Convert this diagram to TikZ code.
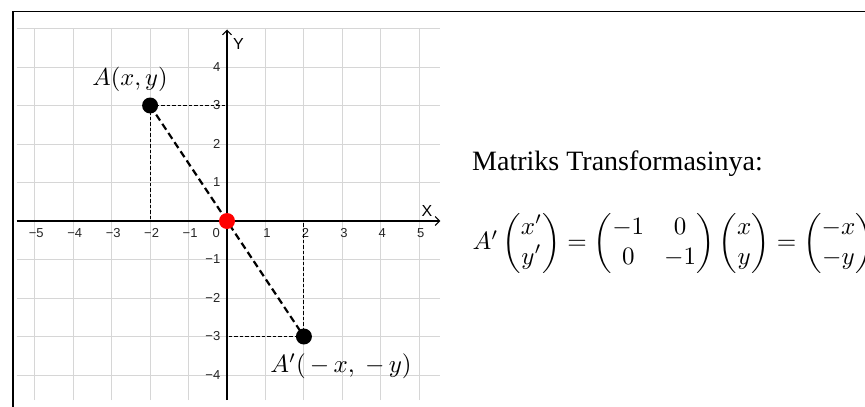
\documentclass[tikz,border=0pt]{standalone}
\usepackage{amsmath}
\usepackage{fontspec}
\setmainfont{Liberation Serif}
\newfontfamily\axisfont{Liberation Sans}
\usetikzlibrary{arrows.meta}
\begin{document}
\begin{tikzpicture}[x=1pt,y=-1pt,
  gridline/.style={draw=black!16, line width=0.9pt},
  axisline/.style={draw=black, line width=1.2pt},
  axtip/.style={-{Straight Barb[length=4.5pt,width=9pt,line width=1pt]}},
  ticklbl/.style={font=\axisfont\fontsize{13}{15}\selectfont, inner sep=0pt, text=black!85},
  axlbl/.style={font=\axisfont\fontsize{16}{18}\selectfont, inner sep=0pt},
  thindash/.style={draw=black, line width=0.9pt, dash pattern=on 3.5pt off 2pt},
  thickdash/.style={draw=black, line width=2.2pt, dash pattern=on 7pt off 4pt},
  dot/.style={circle, fill=black, minimum size=16pt, inner sep=0pt},
  mathlbl/.style={inner sep=0pt}]
\useasboundingbox (0,0) rectangle (865,407);
\clip (0,0) rectangle (865,407);
\fill[white] (0,0) rectangle (865,407);
% frame
\draw[line width=1.5pt] (13,407) -- (13,11.5) -- (865,11.5);
\begin{scope}[shift={(227,221)}, x=38.45pt, y=38.5pt]
  \foreach \i in {-5,...,5} \draw[gridline] (\i,-4.65) -- (\i,5);
  \foreach \j in {-4,...,5} \draw[gridline] (-5.47,\j) -- (5.55,\j);
  % axes
  \coordinate (xl) at (-5.47,0);
  \coordinate (xr) at (5.55,0);
  \coordinate (yb) at (0,-4.65);
  \coordinate (yt) at (0,4.97);
  \draw[axisline, axtip] (xl) -- (xr);
  \draw[axisline, axtip] (yb) -- (yt);
  \node[axlbl] (X) at (5.2,0.27) {X};
  \node[axlbl] (Y) at (0.3,4.6) {Y};
  % tick labels
  \foreach \i/\t in {-5/−5,-4/−4,-3/−3,-2/−2,-1/−1,1/1,2/2,3/3,4/4,5/5}
    \node[ticklbl] (tx\i) at (\i+0.04,-0.31) {\t};
  \node[ticklbl] (t0) at (-0.28,-0.31) {0};
  \foreach \j/\t in {4/4,3/3,2/2,1/1,-1/−1,-2/−2,-3/−3,-4/−4}
    \node[ticklbl, anchor=east] (ty\j) at (-0.17,\j) {\t};
  % points
  \coordinate (pA) at (-2,3);
  \coordinate (pB) at (2,-3);
  \coordinate (pO) at (0,0);
  \coordinate (Ay) at (0,3);
  \coordinate (Ax) at (-2,0);
  \coordinate (By) at (0,-3);
  \coordinate (Bx) at (2,0);
  \draw[thindash] (pA) -- (Ay);
  \draw[thindash] (pA) -- (Ax);
  \draw[thindash] (pB) -- (By);
  \draw[thindash] (pB) -- (Bx);
  \draw[thickdash] (pA) -- (pB);
  \node[dot] (A) at (pA) {};
  \node[dot] (B) at (pB) {};
  \node[dot, fill=red] (O) at (pO) {};
\end{scope}
% labels
\node[mathlbl, scale=2.45] (lA) at (130,79) {$A(x,y)$};
\node[mathlbl, scale=2.5] (lB) at (341,366) {$A'(\,-\,x,\ -\,y)$};
\node[anchor=base west, inner sep=0pt, font=\fontsize{28}{32}\selectfont] (title) at (472,170) {Matriks Transformasinya:};
\node[anchor=west, mathlbl, scale=2.5] (eq) at (472,243)
 {\setlength\arraycolsep{4pt}$A'\begin{pmatrix}x'\\y'\end{pmatrix}=\begin{pmatrix}-1&0\\0&-1\end{pmatrix}\begin{pmatrix}x\\y\end{pmatrix}=\begin{pmatrix}-x\\-y\end{pmatrix}$};
\end{tikzpicture}
\end{document}
